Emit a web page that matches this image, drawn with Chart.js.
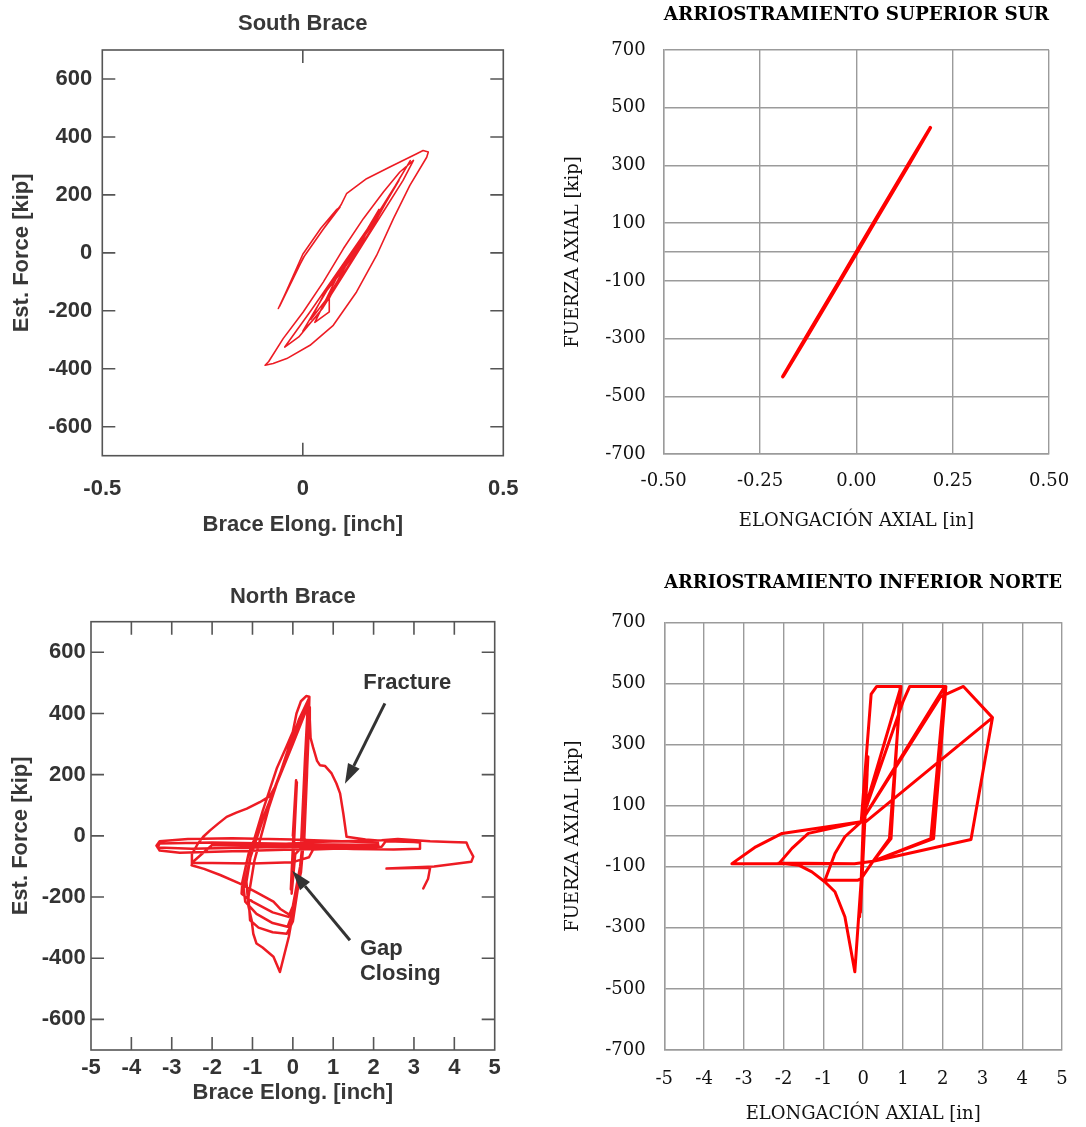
<!DOCTYPE html>
<html>
<head>
<meta charset="utf-8">
<script src="https://cdn.jsdelivr.net/npm/chart.js@4.4.1/dist/chart.umd.min.js"></script>
<style>
html,body{margin:0;padding:0;background:#fff;}
#wrap{position:relative;width:1086px;height:1127px;overflow:hidden;background:#fff;}
canvas{position:absolute;}
</style>
</head>
<body>
<div id="wrap">
<canvas id="c1" width="543" height="550" style="left:0px;top:0px;width:543px;height:550px"></canvas>
<canvas id="c2" width="543" height="550" style="left:543px;top:0px;width:543px;height:550px"></canvas>
<canvas id="c3" width="543" height="567" style="left:0px;top:560px;width:543px;height:567px"></canvas>
<canvas id="c4" width="543" height="567" style="left:543px;top:560px;width:543px;height:567px"></canvas>
</div>
<script>
// ---------- South Brace (test) ----------
const southElong = [-0.061,-0.03,0.005,0.05,0.093,0.085,0.045,0.0,-0.058,0.002,0.05,0.095,0.109,0.159,0.217,0.284,0.3,0.313,
0.309,0.267,0.226,0.184,0.134,0.076,0.018,-0.04,-0.074,-0.094,
-0.085,-0.049,0.001,0.051,0.101,0.151,0.201,0.242,0.276,
0.25,0.2,0.15,0.1,0.05,-0.01,-0.045,
0.02,0.08,0.14,0.2,0.268,
0.23,0.18,0.13,0.085,0.04,0.0,
0.06,0.12,0.18,0.24,
0.2,0.15,0.105,0.066,0.066,0.03,
0.09,0.15,0.21,
0.17,0.12,0.07,0.02,
0.05,0.11,0.16,0.19,
0.14,0.1,0.06,
0.12,0.17,
0.13,0.08,0.05];
const southForce = [-192,-100,-9,80,158,150,85,-5,-185,-15,80,165,204,256,296,342,353,348,
330,233,118,-9,-135,-250,-319,-365,-382,-388,
-375,-296,-204,-101,14,118,210,279,319,
250,140,30,-80,-190,-290,-325,
-200,-80,40,160,318,
230,120,10,-100,-210,-270,
-130,-10,110,250,
160,50,-50,-157,-204,-240,
-70,50,180,
80,-30,-140,-230,
-150,-30,80,150,
20,-60,-130,
0,100,
10,-90,-150];
const southXTicks = [-0.5, 0, 0.5];
const southXLabels = ['-0.5', '0', '0.5'];
const southYTicks = [-600, -400, -200, 0, 200, 400, 600];
const southYLabels = ['-600', '-400', '-200', '0', '200', '400', '600'];

// ---------- Arriostramiento superior sur (model) ----------
const supSurElong = [-0.191,-0.133,-0.044,0.000,0.044,0.133,0.192,0.135,0.046,0.002,-0.042,-0.131,-0.189];
const supSurForce = [-432,-300,-100,0,100,300,431,300,100,0,-100,-300,-428];
const supSurXTicks = [-0.5, -0.25, 0, 0.25, 0.5];
const supSurXLabels = ['-0.50', '-0.25', '0.00', '0.25', '0.50'];
const serifYTicks = [-700, -500, -300, -100, 0, 100, 300, 500, 700];
const serifYLabels = ['-700', '-500', '-300', '-100', '', '100', '300', '500', '700'];

// ---------- North Brace (test) ----------
const northElong = [0,0.08,-0.05,0.1,-0.03,0.06,0.2,
0.3,0.36,0.33,0.28,0.2,0,-0.11,-0.5,-1.0,-1.27,-1.25,-1.1,-0.8,-0.4,0,0.3,0.38,
0.34,0.28,0.2,0,-0.13,-0.5,-0.9,-1.18,-1.22,-1.05,-0.7,-0.3,0.1,0.37,
0.33,0.27,0.15,0,-0.15,-0.5,-0.85,-1.06,-1.1,-0.95,-0.6,-0.2,0.15,0.4,
0.35,0.28,0.1,-0.1,-0.32,-0.48,-0.75,-0.9,-0.98,-1.02,-1.1,-1.15,-1.0,-0.75,-0.4,-0.16,0,0.09,0.2,0.33,0.41,
0.38,0.3,0.18,0,-0.07,-0.3,-0.48,-0.9,-1.31,-1.8,-2.2,-2.51,-2.5,-2.35,-2.22,-2.05,-1.85,-1.64,-1.4,-1.14,-0.82,-0.57,-0.4,-0.1,0.2,0.41,
0.42,0.44,0.5,0.6,0.67,0.8,0.96,1.08,1.17,1.25,1.33,1.8,2.1,
2.12,1.0,0,-1.5,-2.8,-3.3,-3.38,-3.3,-2.6,-1.5,0,1.2,2.1,2.12,0.5,-1.0,-2.5,-3.35,-3.3,-2.0,-0.5,1.0,2.1,1.0,-0.5,-2.0,-2.5,-1.0,0,0.4,0.5,1.5,2.2,2.3,3.0,3.15,3.15,2.5,1.5,0.5,-0.5,0.5,2.2,2.6,3.4,3.9,4.3,4.35,4.47,4.42,3.5,2.32,3.4,3.35,3.23];
const northForce = [0,182,-175,175,-189,-60,-40,
250,400,200,0,-120,-230,-265,-250,-215,-189,-150,-60,40,170,300,400,425,
250,30,-110,-250,-297,-285,-255,-215,-170,-70,70,210,350,440,
220,0,-150,-280,-320,-315,-300,-276,-200,-80,90,250,380,450,
200,-20,-180,-330,-445,-395,-365,-352,-320,-276,-230,-150,-30,80,220,291,340,400,440,457,455,
300,50,-100,-230,-259,-240,-215,-185,-156,-128,-108,-96,-60,-25,-3,18,40,62,76,89,110,130,170,290,390,420,
380,320,290,245,231,228,204,171,139,73,-3,-12,-15,
-40,-42,-45,-50,-55,-48,-32,-18,-10,-8,-12,-18,-22,-33,-35,-38,-42,-38,-25,-22,-25,-28,-30,-32,-33,-30,-88,-90,-86,-70,-45,-40,-36,-18,-20,-22,-42,-45,-43,-38,-30,-20,-14,-10,-18,-20,-22,-38,-68,-85,-100,-107,-104,-140,-172];
const northXTicks = [-5, -4, -3, -2, -1, 0, 1, 2, 3, 4, 5];
const northXLabels = ['-5', '-4', '-3', '-2', '-1', '0', '1', '2', '3', '4', '5'];
const northYTicks = [-600, -400, -200, 0, 200, 400, 600];
const northYLabels = ['-600', '-400', '-200', '0', '200', '400', '600'];

// ---------- Arriostramiento inferior norte (model) ----------
const infNorteElong = [0,0.12,-0.09,0.1,-0.07,0.1,-0.05,
0.2,0.34,0.93,0.70,0.25,
-0.05,-0.13,-0.96,-0.71,-0.46,-0.05,
0.95,0.66,0.25,-0.22,-2.12,-1.79,-1.38,-0.05,
1.0,1.17,2.08,1.77,0.25,-0.22,-3.30,-2.70,-2.04,-0.05,
2.05,1.70,0.25,-0.22,-2.12,-1.79,-1.38,-0.05,
1.94,2.52,3.25,2.71,0.25,-0.22,-2.12,-1.62,-1.29,-0.96,-0.71,-0.46,-0.21,-0.05,0.0,3.25];
const infNorteForce = [0,260,-264,250,-250,205,47,
465,490,490,-8,-82,
-139,-144,-144,-57,-2,47,
490,-8,-82,-90,-90,-40,9,47,
440,490,490,-8,-82,-90,-90,-35,9,47,
490,-8,-82,-90,-90,-40,9,47,
456,490,388,-11,-82,-90,-88,-95,-117,-150,-182,-264,-444,-144,40,388];
const infNorteXTicks = [-5, -4, -3, -2, -1, 0, 1, 2, 3, 4, 5];
const infNorteXLabels = ['-5', '-4', '-3', '-2', '-1', '0', '1', '2', '3', '4', '5'];

// annotations of the North Brace panel (in data units)
const northNoteTexts = [
  {text: 'Fracture', x: 1.744, y: 499},
  {text: 'Gap', x: 1.662, y: -371},
  {text: 'Closing', x: 1.662, y: -452}
];
const northNoteArrows = [
  {from: [2.28, 433], to: [1.29, 170]},
  {from: [1.414, -341], to: [-0.015, -114]}
];

const SANS = "'Liberation Sans', Arial, Helvetica, sans-serif";
const SERIF = "'DejaVu Serif', Georgia, serif";

const pts = (xs, ys) => xs.map((x, i) => ({x: x, y: ys[i]}));

const boxTicks = {
  id: 'boxTicks',
  afterDraw(chart, args, opts) {
    if (!opts || !opts.enabled) return;
    const ctx = chart.ctx, a = chart.chartArea, x = chart.scales.x, y = chart.scales.y;
    ctx.save();
    ctx.strokeStyle = opts.color;
    ctx.lineWidth = opts.width;
    const L = opts.length;
    ctx.beginPath();
    x.ticks.forEach(t => {
      if (t.value > x.min && t.value < x.max) {
        const p = x.getPixelForValue(t.value);
        ctx.moveTo(p, a.top); ctx.lineTo(p, a.top + L);
        ctx.moveTo(p, a.bottom); ctx.lineTo(p, a.bottom - L);
      }
    });
    y.ticks.forEach(t => {
      if (t.value > y.min && t.value < y.max) {
        const p = y.getPixelForValue(t.value);
        ctx.moveTo(a.left, p); ctx.lineTo(a.left + L, p);
        ctx.moveTo(a.right, p); ctx.lineTo(a.right - L, p);
      }
    });
    ctx.stroke();
    ctx.strokeRect(a.left, a.top, a.right - a.left, a.bottom - a.top);
    ctx.restore();
  }
};

const notes = {
  id: 'notes',
  afterDraw(chart, args, opts) {
    if (!opts || !opts.texts) return;
    const ctx = chart.ctx, x = chart.scales.x, y = chart.scales.y;
    ctx.save();
    ctx.fillStyle = opts.color;
    ctx.strokeStyle = opts.color;
    ctx.font = opts.font;
    ctx.textAlign = 'left';
    ctx.textBaseline = 'middle';
    opts.texts.forEach(t => ctx.fillText(t.text, x.getPixelForValue(t.x), y.getPixelForValue(t.y)));
    opts.arrows.forEach(ar => {
      const x0 = x.getPixelForValue(ar.from[0]), y0 = y.getPixelForValue(ar.from[1]);
      const x1 = x.getPixelForValue(ar.to[0]), y1 = y.getPixelForValue(ar.to[1]);
      const ang = Math.atan2(y1 - y0, x1 - x0);
      const hl = opts.headLength, hw = opts.headWidth;
      const bx = x1 - hl * Math.cos(ang), by = y1 - hl * Math.sin(ang);
      ctx.lineWidth = opts.lineWidth;
      ctx.beginPath(); ctx.moveTo(x0, y0); ctx.lineTo(bx, by); ctx.stroke();
      ctx.beginPath();
      ctx.moveTo(x1, y1);
      ctx.lineTo(bx + hw * Math.sin(ang), by - hw * Math.cos(ang));
      ctx.lineTo(bx - hw * Math.sin(ang), by + hw * Math.cos(ang));
      ctx.closePath(); ctx.fill();
    });
    ctx.restore();
  }
};

function makeChart(id, p) {
  return new Chart(document.getElementById(id), {
    type: 'scatter',
    data: {
      datasets: [{
        data: pts(p.xs, p.ys),
        showLine: true,
        borderColor: p.lineColor,
        backgroundColor: p.lineColor,
        borderWidth: p.lineWidth,
        pointRadius: 0,
        pointHoverRadius: 0,
        tension: 0,
        fill: false,
        borderJoinStyle: 'round',
        borderCapStyle: 'round'
      }]
    },
    options: {
      responsive: false,
      animation: false,
      devicePixelRatio: 1,
      events: [],
      layout: {padding: p.pad},
      plugins: {
        legend: {display: false},
        tooltip: {enabled: false},
        title: {display: true, text: p.title, fullSize: false, color: p.titleColor, font: p.titleFont, padding: p.titlePad},
        boxTicks: p.boxTicks || {enabled: false},
        notes: p.notes || {}
      },
      scales: {
        x: {
          type: 'linear', position: 'bottom', min: p.xMin, max: p.xMax,
          afterBuildTicks: s => { s.ticks = p.xTicks.map(v => ({value: v})); },
          afterFit: s => { s.height = p.xH; },
          ticks: {autoSkip: false, maxRotation: 0, minRotation: 0, padding: p.xTickPad, color: p.tickColor, font: p.tickFont,
                  callback: (v, i) => p.xLabels[i]},
          grid: p.grid, border: p.border,
          title: {display: true, text: p.xTitle, color: p.axisTitleColor, font: p.axisTitleFont, padding: {top: 0, bottom: p.xTitlePad}}
        },
        y: {
          type: 'linear', position: 'left', min: p.yMin, max: p.yMax,
          afterBuildTicks: s => { s.ticks = p.yTicks.map(v => ({value: v})); },
          afterFit: s => { s.width = p.yW; },
          ticks: {autoSkip: false, padding: p.yTickPad, color: p.tickColor, font: p.tickFont,
                  callback: (v, i) => p.yLabels[i]},
          grid: p.grid, border: p.border,
          title: {display: true, text: p.yTitle, color: p.axisTitleColor, font: p.axisTitleFont, padding: {top: p.yTitlePad, bottom: 0}}
        }
      }
    },
    plugins: [boxTicks, notes]
  });
}

const sansCommon = {
  titleColor: '#383838', titleFont: {family: SANS, size: 22, weight: 'bold'},
  tickColor: '#333333', tickFont: {family: SANS, size: 22, weight: 'bold'},
  axisTitleColor: '#383838', axisTitleFont: {family: SANS, size: 22, weight: 'bold'},
  grid: {display: false, drawTicks: false}, border: {display: false},
  boxTicks: {enabled: true, color: '#555555', width: 1.6, length: 13},
  lineColor: '#ed1c24'
};
const serifCommon = {
  titleColor: '#000000', titleFont: {family: SERIF, size: 19, weight: 'bold'},
  tickColor: '#111111', tickFont: {family: SERIF, size: 18, weight: 'normal'},
  axisTitleColor: '#111111', axisTitleFont: {family: SERIF, size: 18, weight: 'normal'},
  grid: {display: true, drawTicks: false, color: '#9b9b9b', lineWidth: 1.4},
  border: {display: true, color: '#9b9b9b', width: 1.4},
  lineColor: '#ff0000'
};

makeChart('c1', Object.assign({}, sansCommon, {
  xs: southElong, ys: southForce, lineWidth: 1.6,
  title: 'South Brace', xTitle: 'Brace Elong. [inch]', yTitle: 'Est. Force [kip]',
  xMin: -0.5, xMax: 0.5, yMin: -700, yMax: 700,
  xTicks: southXTicks, xLabels: southXLabels, yTicks: southYTicks, yLabels: southYLabels,
  pad: {left: 0, top: 0, right: 39.7, bottom: 9.3},
  titlePad: {top: 10.8, bottom: 12.8},
  yW: 102.3, yTickPad: 10, yTitlePad: 8.3,
  xH: 85, xTickPad: 20.1, xTitlePad: 2.5
}));

makeChart('c2', Object.assign({}, serifCommon, {
  xs: supSurElong, ys: supSurForce, lineWidth: 3.5,
  title: 'ARRIOSTRAMIENTO SUPERIOR SUR', xTitle: 'ELONGACIÓN AXIAL [in]', yTitle: 'FUERZA AXIAL [kip]',
  xMin: -0.5, xMax: 0.5, yMin: -700, yMax: 700,
  xTicks: supSurXTicks, xLabels: supSurXLabels, yTicks: serifYTicks, yLabels: serifYLabels,
  pad: {left: 0, top: 0, right: 23.7, bottom: 11},
  titlePad: {top: 3.9, bottom: 23.3},
  yW: 120.7, yTickPad: 18, yTitlePad: 19.7,
  xH: 85, xTickPad: 16.9, xTitlePad: 7
}));

makeChart('c3', Object.assign({}, sansCommon, {
  xs: northElong, ys: northForce, lineWidth: 2.5,
  title: 'North Brace', xTitle: 'Brace Elong. [inch]', yTitle: 'Est. Force [kip]',
  xMin: -5, xMax: 5, yMin: -700, yMax: 700,
  xTicks: northXTicks, xLabels: northXLabels, yTicks: northYTicks, yLabels: northYLabels,
  pad: {left: 0, top: 0, right: 48.3, bottom: 17},
  titlePad: {top: 23.4, bottom: 11.9},
  yW: 91, yTickPad: 5.3, yTitlePad: 7.6,
  xH: 60, xTickPad: 5.1, xTitlePad: 3.8,
  notes: {texts: northNoteTexts, arrows: northNoteArrows, color: '#333333',
          font: "bold 22px " + SANS, lineWidth: 3, headLength: 20, headWidth: 6.5}
}));

makeChart('c4', Object.assign({}, serifCommon, {
  xs: infNorteElong, ys: infNorteForce, lineWidth: 3,
  title: 'ARRIOSTRAMIENTO INFERIOR NORTE', xTitle: 'ELONGACIÓN AXIAL [in]', yTitle: 'FUERZA AXIAL [kip]',
  xMin: -5, xMax: 5, yMin: -700, yMax: 700,
  xTicks: infNorteXTicks, xLabels: infNorteXLabels, yTicks: serifYTicks, yLabels: serifYLabels,
  pad: {left: 0, top: 0, right: 19.7, bottom: 2},
  titlePad: {top: 12.1, bottom: 27.4},
  yW: 121.3, yTickPad: 18.6, yTitlePad: 19.2,
  xH: 75, xTickPad: 18.2, xTitlePad: 0
}));
</script>
</body>
</html>
